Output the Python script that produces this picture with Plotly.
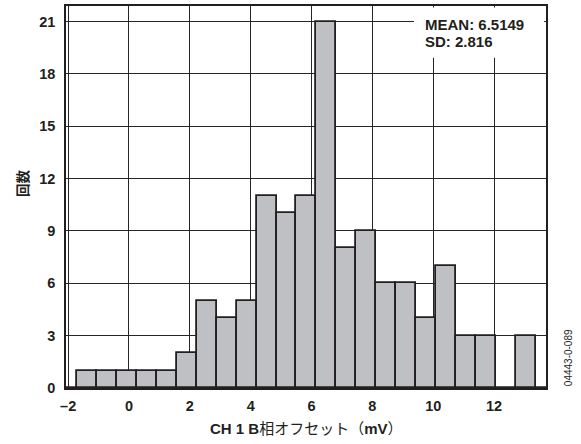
import numpy as np
import plotly.graph_objects as go

# Histogram of CH 1 phase-B offset (mV)
bin_start = -1.70 - 0.655      # left edge of the first (empty) bin
bin_width = 0.655
counts = [0, 1, 1, 1, 1, 1, 2, 5, 4, 5, 11, 10, 11, 21, 8, 9, 6, 6, 4, 7, 3, 3, 0, 3, 0]
bin_centers = bin_start + bin_width * (np.arange(len(counts)) + 0.5)

x_ticks = [-2, 0, 2, 4, 6, 8, 10, 12]
y_ticks = [0, 3, 6, 9, 12, 15, 18, 21]
mean_text = "MEAN: 6.5149"
sd_text = "SD: 2.816"
x_title = "<b>CH 1 B</b>相オフセット（<b>mV</b>）"
y_title = "<b>回数</b>"
fig_id = "04443-0-089"

INK = "#231f20"
LATIN = "Liberation Sans, Arial, Noto Sans CJK JP, sans-serif"
CJK = "Liberation Sans, Noto Sans CJK JP, sans-serif"

fig = go.Figure(
    go.Bar(
        x=bin_centers,
        y=counts,
        width=bin_width,
        marker=dict(color="#bfc0c4", line=dict(color=INK, width=1.8)),
        hoverinfo="x+y",
    )
)

axis_common = dict(
    showgrid=True,
    gridcolor="#262626",
    gridwidth=1.1,
    showline=True,
    linecolor=INK,
    linewidth=1.6,
    mirror=True,
    ticks="",
    zeroline=False,
    tickfont=dict(family=LATIN, size=14.5, color=INK, weight="bold"),
)

fig.update_xaxes(
    range=[-2.07, 13.706],
    tickvals=x_ticks,
    ticktext=[("–" + str(-v)) if v < 0 else str(v) for v in x_ticks],
    ticklabelstandoff=4,
    **axis_common,
)
fig.update_yaxes(
    range=[0, 21.89],
    tickvals=y_ticks,
    ticklabelstandoff=6,
    **axis_common,
)

annotations = [
    dict(x=0.7445, y=1 - (23 - 4) / 384, text=mean_text, xanchor="left", yanchor="middle",
         font=dict(family=LATIN, size=15, color=INK, weight="bold")),
    dict(x=0.7445, y=1 - (40 - 4) / 384, text=sd_text, xanchor="left", yanchor="middle",
         font=dict(family=LATIN, size=15, color=INK, weight="bold")),
    dict(x=(306 - 66) / 480, y=1 - (428.5 - 4) / 384, text=x_title, xanchor="center", yanchor="middle",
         font=dict(family=CJK, size=15, color=INK)),
    dict(x=(23 - 66) / 480, y=1 - (182 - 4) / 384, text=y_title, textangle=-90,
         xanchor="center", yanchor="middle",
         font=dict(family=CJK, size=13.5, color=INK)),
    dict(x=(568 - 66) / 480, y=1 - (358 - 4) / 384, text=fig_id, textangle=-90,
         xanchor="center", yanchor="middle",
         font=dict(family="Liberation Sans, Arial, sans-serif", size=10, color=INK)),
]
for a in annotations:
    a.update(xref="paper", yref="paper", showarrow=False)

fig.update_layout(
    width=581,
    height=444,
    margin=dict(l=66, r=35, t=4, b=56),
    paper_bgcolor="white",
    plot_bgcolor="white",
    showlegend=False,
    bargap=0,
    annotations=annotations,
    shapes=[
        # white panel behind the statistics text
        dict(type="rect", xref="paper", yref="paper", layer="above",
             x0=0.725, x1=0.996, y0=1 - (56 - 4) / 384, y1=0.996,
             fillcolor="white", line=dict(width=0)),
    ],
)

fig.write_html("out.html")
